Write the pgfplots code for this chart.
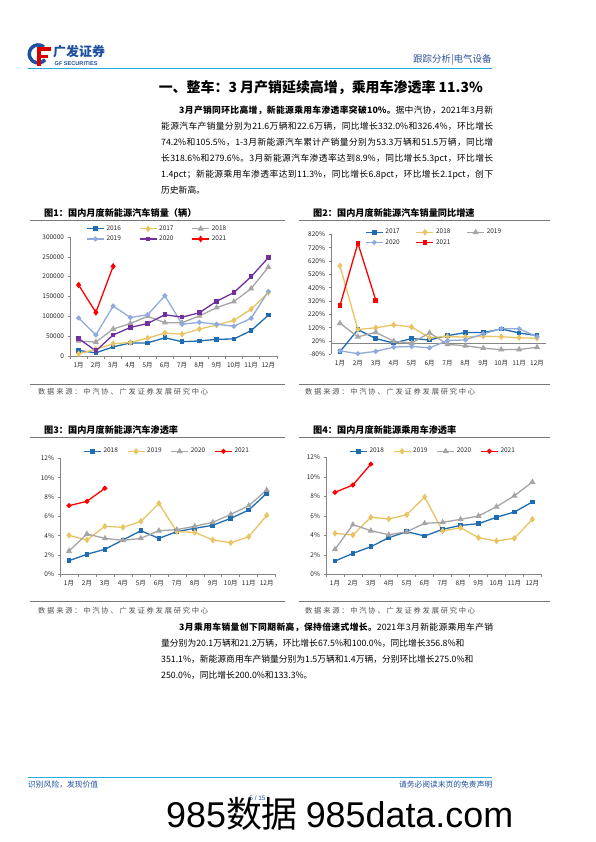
\documentclass[border=0pt]{standalone}
\usepackage{pgfplots}
\pgfplotsset{compat=1.18}
\usepackage{fontspec}
\setmainfont{Noto Sans CJK SC}
\newfontfamily\lat{Liberation Sans}
\newXeTeXintercharclass\myCJK
\count255="3000 \loop\XeTeXcharclass\count255=\myCJK\ifnum\count255<"303F \advance\count255 by 1 \repeat
\count255="4E00 \loop\XeTeXcharclass\count255=\myCJK\ifnum\count255<"9FFF \advance\count255 by 1 \repeat
\count255="FF00 \loop\XeTeXcharclass\count255=\myCJK\ifnum\count255<"FFEF \advance\count255 by 1 \repeat
\XeTeXinterchartoks\myCJK\myCJK={\hskip 0pt plus 1pt\relax}
\XeTeXinterchartoks\myCJK 0={\hskip 0pt plus 1pt\relax}
\XeTeXinterchartoks 0\myCJK={\hskip 0pt plus 1pt\relax}
\XeTeXinterchartokenstate=1
\definecolor{cblue}{RGB}{31,108,178}
\definecolor{cyel}{RGB}{233,196,100}
\definecolor{cgray}{RGB}{165,165,165}
\definecolor{clblue}{RGB}{143,170,220}
\definecolor{cpurp}{RGB}{112,48,160}
\definecolor{cred}{RGB}{255,0,0}
\definecolor{hdrline}{RGB}{41,170,225}
\definecolor{gfblue}{RGB}{30,80,160}
\definecolor{hdrtxt}{RGB}{46,84,150}
\definecolor{axgray}{RGB}{134,134,134}
\definecolor{rule}{RGB}{120,120,120}
\definecolor{srcgray}{RGB}{80,80,80}
\pgfplotsset{
  base/.style={
    scale only axis, anchor=south west,
    axis lines*=left, axis line style={-, axgray, line width=0.6bp},
    tick style={axgray, line width=0.6bp},
    tick align=outside,
    major tick length=2.5bp, minor tick length=2.5bp,
    xmin=-0.5, xmax=11.5, xtick={0,...,11},
    xticklabels={1月,2月,3月,4月,5月,6月,7月,8月,9月,10月,11月,12月},
    major x tick style={draw=none},
    minor xtick={-0.5,0.5,...,11.5},
    scaled y ticks=false,
    tick label style={font=\fontsize{6.5}{7}\selectfont, text=black!85},
    /pgf/number format/assume math mode=true,
    legend cell align=left,
    legend style={draw=none, fill=none, font=\fontsize{6.5}{7}\selectfont, text=black!85},
    clip=false,
  },
  ln/.style={line width=1.3bp, mark options={solid}},
  sq/.style={ln, mark=square*, mark size=1.7bp},
  di/.style={ln, mark=diamond*, mark size=2.3bp},
  tr/.style={ln, mark=triangle*, mark size=2.3bp},
  ci/.style={ln, mark=*, mark size=1.8bp},
}
\newcommand{\bt}{\fontsize{8.8}{10}\selectfont}
\tikzset{jline/.style={anchor=base west, inner sep=0pt, font=\bt},
  src/.style={anchor=base west, inner sep=0pt, text=srcgray, font=\fontsize{7.3}{8}\selectfont}}
\newcommand{\srctext}{\hbox to 170bp{数据来源：中汽协、广发证券发展研究中心}}
\begin{document}
\begin{tikzpicture}
\fill[white] (0,0) rectangle (596bp,-842bp);
\path[use as bounding box] (0,0) rectangle (596bp,-842bp);
% ---------- header ----------
\draw[gfblue, line width=3.5bp] (44bp,-47bp) arc[start angle=50, end angle=320, radius=9bp];
\fill[red!85!black] (37bp,-47bp) rectangle (40.5bp,-66bp);
\fill[red!85!black] (37bp,-47bp) rectangle (51bp,-50.5bp);
\fill[red!85!black] (37bp,-54.5bp) rectangle (48bp,-58bp);
\node[anchor=west, inner sep=0pt, text=gfblue, font=\fontsize{13}{14}\selectfont\bfseries] at (53bp,-51.5bp) {广发证券};
\node[anchor=west, inner sep=0pt, text=gfblue, font=\lat\fontsize{5.6}{6}\selectfont\bfseries] at (54.5bp,-63.5bp) {GF SECURITIES};
\node[anchor=base east, inner sep=0pt, text=hdrtxt, font=\fontsize{9.5}{10}\selectfont] at (491.7bp,-62.9bp) {跟踪分析|电气设备};
\draw[hdrline, line width=1bp] (28bp,-68.5bp) -- (492bp,-68.5bp);
\node[anchor=base east, inner sep=0pt, font=\fontsize{14}{15}\selectfont\bfseries] at (483bp,-92bp) {一、整车：3 月产销延续高增，乘用车渗透率 11.3\%};
% ---------- paragraph 1 ----------
\node[jline] at (179bp,-113.3bp) {\hbox to 314bp{{\bfseries 3月产销同环比高增，新能源乘用车渗透率突破10\%。}据中汽协，2021年3月新}};
\node[jline] at (161bp,-129.3bp) {\hbox to 332bp{能源汽车产销量分别为21.6万辆和22.6万辆，同比增长332.0\%和326.4\%，环比增长}};
\node[jline] at (161bp,-145.3bp) {\hbox to 332bp{74.2\%和105.5\%，1-3月新能源汽车累计产销量分别为53.3万辆和51.5万辆，同比增}};
\node[jline] at (161bp,-161.3bp) {\hbox to 332bp{长318.6\%和279.6\%。3月新能源汽车渗透率达到8.9\%，同比增长5.3pct，环比增长}};
\node[jline] at (161bp,-177.3bp) {\hbox to 332bp{1.4pct；新能源乘用车渗透率达到11.3\%，同比增长6.8pct，环比增长2.1pct，创下}};
\node[anchor=base west, inner sep=0pt, font=\bt] at (161bp,-193.3bp) {历史新高。};
% ---------- chart titles / rules ----------
\node[anchor=base west, inner sep=0pt, font=\fontsize{9.2}{10}\selectfont\bfseries] at (44bp,-216.5bp) {图1：国内月度新能源汽车销量（辆）};
\node[anchor=base west, inner sep=0pt, font=\fontsize{9.2}{10}\selectfont\bfseries] at (313bp,-216.5bp) {图2：国内月度新能源汽车销量同比增速};
\draw[rule, line width=0.6bp] (30bp,-220bp) -- (285bp,-220bp);
\draw[rule, line width=0.6bp] (299bp,-220bp) -- (550bp,-220bp);
\draw[rule, line width=0.6bp] (30bp,-384.3bp) -- (285bp,-384.3bp);
\draw[rule, line width=0.6bp] (299bp,-384.3bp) -- (550bp,-384.3bp);
\node[src] at (38bp,-394.7bp) {\srctext};
\node[src] at (305bp,-394.7bp) {\srctext};
\node[anchor=base west, inner sep=0pt, font=\fontsize{9.2}{10}\selectfont\bfseries] at (44bp,-433.5bp) {图3：国内月度新能源汽车渗透率};
\node[anchor=base west, inner sep=0pt, font=\fontsize{9.2}{10}\selectfont\bfseries] at (313bp,-433.5bp) {图4：国内月度新能源乘用车渗透率};
\draw[rule, line width=0.6bp] (30bp,-437.7bp) -- (285bp,-437.7bp);
\draw[rule, line width=0.6bp] (299bp,-437.7bp) -- (550bp,-437.7bp);
\draw[rule, line width=0.6bp] (30bp,-601.7bp) -- (285bp,-601.7bp);
\draw[rule, line width=0.6bp] (299bp,-601.7bp) -- (550bp,-601.7bp);
\node[src] at (38bp,-613.8bp) {\srctext};
\node[src] at (305bp,-613.8bp) {\srctext};
% ---------- chart 1 ----------
\begin{axis}[base, at={(70bp,-356bp)}, width=207bp, height=119bp,
  ymin=0, ymax=300000, ytick={0,50000,100000,150000,200000,250000,300000},
  yticklabels={0,50000,100000,150000,200000,250000,300000},
  legend columns=3,
  legend style={at={(0.063,1.13)}, anchor=north west, /tikz/every even column/.append style={column sep=16bp}}]
\addplot[sq, cblue] coordinates {(0,14000) (1,8000) (2,23000) (3,33000) (4,33000) (5,46000) (6,36000) (7,38000) (8,42000) (9,43000) (10,64000) (11,103000)};
\addplot[di, cyel] coordinates {(0,5600) (1,17000) (2,31000) (3,34000) (4,45000) (5,58000) (6,55000) (7,68000) (8,78000) (9,90000) (10,118000) (11,160000)};
\addplot[tr, cgray] coordinates {(0,38000) (1,35000) (2,68000) (3,82000) (4,100000) (5,84000) (6,84000) (7,101000) (8,122000) (9,137000) (10,170000) (11,224000)};
\addplot[ci, clblue] coordinates {(0,96000) (1,53000) (2,126000) (3,97000) (4,104000) (5,152000) (6,80000) (7,85000) (8,80000) (9,75000) (10,95000) (11,163000)};
\addplot[sq, cpurp] coordinates {(0,44000) (1,13000) (2,53000) (3,72000) (4,82000) (5,104000) (6,98000) (7,109000) (8,138000) (9,160000) (10,200000) (11,248000)};
\addplot[di, cred] coordinates {(0,179000) (1,110000) (2,226000)};
\legend{2016,2017,2018,2019,2020,2021}
\end{axis}
% ---------- chart 2 ----------
\begin{axis}[base, at={(331bp,-354.3bp)}, width=215bp, height=120bp,
  x axis line style={draw=none}, minor xtick={},
  ymin=-80, ymax=820, ytick={-80,20,120,220,320,420,520,620,720,820},
  yticklabels={-80\%,20\%,120\%,220\%,320\%,420\%,520\%,620\%,720\%,820\%},
  legend columns=3,
  legend style={at={(0.144,1.078)}, anchor=north west, /tikz/every even column/.append style={column sep=14bp}}]
\draw[axgray, line width=0.6bp] (axis cs:-0.5,0) -- (axis cs:11.5,0);
\addplot[sq, cblue] coordinates {(0,-60) (1,105) (2,38) (3,4) (4,38) (5,28) (6,60) (7,83) (8,83) (9,110) (10,80) (11,60)};
\addplot[di, cyel] coordinates {(0,583) (1,106) (2,119) (3,141) (4,125) (5,45) (6,53) (7,49) (8,56) (9,52) (10,44) (11,40)};
\addplot[tr, cgray] coordinates {(0,153) (1,51) (2,85) (3,18) (4,4) (5,81) (6,-5) (7,-16) (8,-34) (9,-45) (10,-44) (11,-27)};
\addplot[ci, clblue] coordinates {(0,-54) (1,-75) (2,-58) (3,-26) (4,-21) (5,-32) (6,23) (7,28) (8,73) (9,113) (10,111) (11,52)};
\addplot[sq, cred] coordinates {(0,285) (1,753) (2,326)};
\legend{2017,2018,2019,2020,2021}
\end{axis}
% ---------- chart 3 ----------
\begin{axis}[base, at={(60bp,-574.3bp)}, width=215.7bp, height=116bp,
  ymin=0, ymax=12, ytick={0,2,4,6,8,10,12},
  yticklabels={0\%,2\%,4\%,6\%,8\%,10\%,12\%},
  legend columns=4,
  legend style={at={(0.093,1.123)}, anchor=north west, /tikz/every even column/.append style={column sep=7bp}}]
\addplot[sq, cblue] coordinates {(0,1.41) (1,2.07) (2,2.59) (3,3.55) (4,4.51) (5,3.72) (6,4.41) (7,4.76) (8,5.07) (9,5.79) (10,6.65) (11,8.38)};
\addplot[di, cyel] coordinates {(0,4.03) (1,3.55) (2,4.97) (3,4.86) (4,5.48) (5,7.34) (6,4.41) (7,4.34) (8,3.55) (9,3.27) (10,3.89) (11,6.10)};
\addplot[tr, cgray] coordinates {(0,2.41) (1,4.17) (2,3.72) (3,3.51) (4,3.72) (5,4.51) (6,4.62) (7,4.97) (8,5.38) (9,6.20) (10,7.10) (11,8.72)};
\addplot[ci, cred] coordinates {(0,7.10) (1,7.55) (2,8.90)};
\legend{2018,2019,2020,2021}
\end{axis}
% ---------- chart 4 ----------
\begin{axis}[base, at={(326bp,-574.3bp)}, width=215.3bp, height=117bp,
  ymin=0, ymax=12, ytick={0,2,4,6,8,10,12},
  yticklabels={0\%,2\%,4\%,6\%,8\%,10\%,12\%},
  legend columns=4,
  legend style={at={(0.093,1.114)}, anchor=north west, /tikz/every even column/.append style={column sep=7bp}}]
\addplot[sq, cblue] coordinates {(0,1.36) (1,2.15) (2,2.83) (3,3.76) (4,4.37) (5,3.93) (6,4.61) (7,5.02) (8,5.19) (9,5.85) (10,6.39) (11,7.42)};
\addplot[di, cyel] coordinates {(0,4.20) (1,4.03) (2,5.85) (3,5.67) (4,6.11) (5,7.93) (6,4.44) (7,4.78) (8,3.76) (9,3.42) (10,3.69) (11,5.64)};
\addplot[tr, cgray] coordinates {(0,2.56) (1,5.09) (2,4.47) (3,4.06) (4,4.37) (5,5.23) (6,5.33) (7,5.64) (8,5.98) (9,6.93) (10,8.06) (11,9.47)};
\addplot[ci, cred] coordinates {(0,8.41) (1,9.16) (2,11.30)};
\legend{2018,2019,2020,2021}
\end{axis}
% ---------- paragraph 2 ----------
\node[jline] at (179bp,-630.6bp) {\hbox to 314bp{{\bfseries 3月乘用车销量创下同期新高，保持倍速式增长。}2021年3月新能源乘用车产销}};
\node[anchor=base west, inner sep=0pt, font=\bt] at (161bp,-646.6bp) {量分别为20.1万辆和21.2万辆，环比增长67.5\%和100.0\%，同比增长356.8\%和};
\node[anchor=base west, inner sep=0pt, font=\bt] at (161bp,-662.6bp) {351.1\%，新能源商用车产销量分别为1.5万辆和1.4万辆，分别环比增长275.0\%和};
\node[anchor=base west, inner sep=0pt, font=\bt] at (161bp,-678.3bp) {250.0\%，同比增长200.0\%和133.3\%。};
% ---------- footer ----------
\draw[hdrline, line width=1bp] (28bp,-777.7bp) -- (492bp,-777.7bp);
\node[anchor=base west, inner sep=0pt, text=gfblue, font=\fontsize{7.8}{8}\selectfont] at (28bp,-787.8bp) {识别风险，发现价值};
\node[anchor=base east, inner sep=0pt, text=gfblue, font=\fontsize{7.8}{8}\selectfont] at (492.5bp,-787.8bp) {请务必阅读末页的免责声明};
\node[anchor=base, inner sep=0pt, text=gfblue, font=\lat\fontsize{6.5}{7}\selectfont] at (257.5bp,-800.3bp) {5 / 15};
\node[anchor=base west, inner sep=0pt, font=\fontsize{36}{38}\selectfont] at (166bp,-827bp) {{\lat 985}数据 {\lat 985data.com}};
\end{tikzpicture}
\end{document}
